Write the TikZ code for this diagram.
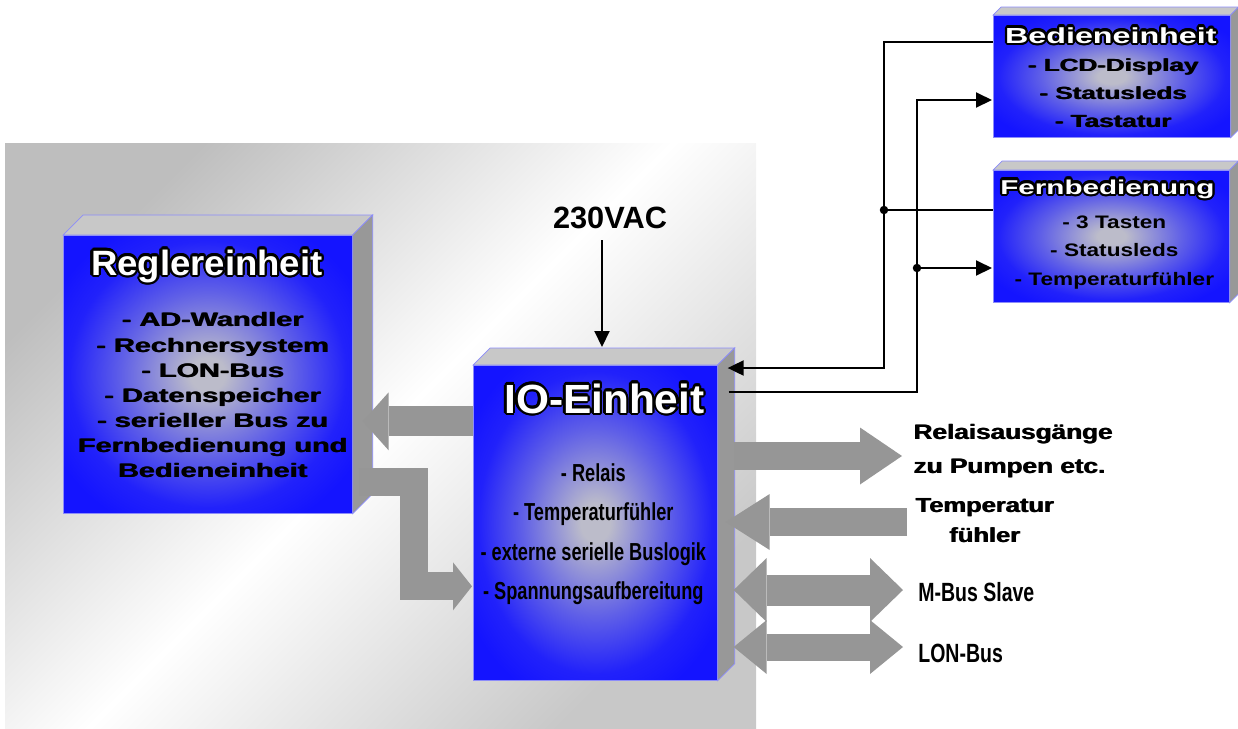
\documentclass[tikz,border=0pt]{standalone}
\usepackage{fontspec}
\usepackage[copies]{contour}
\usetikzlibrary{arrows.meta,positioning,calc}
\setmainfont{Liberation Sans}
\newfontfamily\titlefont{Liberation Sans}[FakeStretch=1.04]
\newfontfamily\widefont{Liberation Sans}[FakeStretch=1.48]
\newfontfamily\midfont{Liberation Sans}[FakeStretch=1.25]
\newfontfamily\narrowfont{Liberation Sans}[FakeStretch=0.74]
\definecolor{bxBlue}  {RGB}{ 20, 20,255}
\definecolor{bxMid}   {RGB}{188,188,202}
\definecolor{bxTop}   {RGB}{200,200,200}
\definecolor{bxSide}  {RGB}{152,152,152}
\definecolor{bxEdge}  {RGB}{140,140,250}
\definecolor{fatGrey} {RGB}{150,150,150}
\definecolor{bgGreyA} {RGB}{190,190,190}
\definecolor{bgGreyB} {RGB}{200,200,200}
\pgfdeclareradialshading{boxglow}{\pgfpoint{0bp}{0bp}}{%
  color(0bp)=(bxMid); color(3bp)=(bxMid); color(15bp)=(bxBlue!55!bxMid);
  color(24bp)=(bxBlue!92!bxMid); color(30bp)=(bxBlue); color(50bp)=(bxBlue)}
\contourlength{1.3pt}
\newcommand{\boxtitle}[1]{\textcolor{white}{\contour{black}{#1}}}
% heavier black lettering: the line printed twice, slightly shifted
\newcommand{\hv}[1]{\rlap{#1}\kern0.5pt#1}
% top and side face of a block: #1 front node, #2 depth
\newcommand{\depthfaces}[2]{%
  \filldraw[topface] (#1.north west) -- ++(#2,-#2)
     -- ($(#1.north east)+(#2,-#2)$) -- (#1.north east) -- cycle;
  \filldraw[sideface] (#1.north east) -- ++(#2,-#2)
     -- ($(#1.south east)+(#2,-#2)$) -- (#1.south east) -- cycle;}

\begin{document}
\begin{tikzpicture}[
  x=0.02cm,y=-0.02cm,
  front/.style={shade,shading=boxglow,draw=bxEdge,line width=0.4pt,
                anchor=north west,inner sep=0pt},
  topface/.style={fill=bxTop,draw=bxEdge,line width=0.4pt},
  sideface/.style={fill=bxSide,draw=bxEdge,line width=0.4pt},
  wire/.style={line width=0.04cm},
  wtip/.style={-{Triangle[length=0.32cm,width=0.3cm]}},
  dot/.style={circle,fill=black,inner sep=0pt,minimum size=0.17cm},
  fat/.style={draw=fatGrey,line width=#1},
  lbl/.style={inner sep=0pt,text=black}
]
\useasboundingbox (0,0) rectangle (1238,728);

% grey panel behind the two main blocks
\shade[top color=bgGreyA,bottom color=bgGreyB,middle color=white,
       shading angle=45] (5,143) rectangle (756,728);

% Reglereinheit
\node[front,minimum width=5.78cm,minimum height=5.56cm] (regler) at (63,235) {};
\depthfaces{regler}{20}
\node[lbl,anchor=base,font=\titlefont\bfseries\fontsize{20}{22}\selectfont]
   (reglerT) at ($(regler.north)+(-1,40)$) {\boxtitle{Reglereinheit}};
\node[lbl,align=center,font=\widefont\bfseries\fontsize{11.1}{14.3}\selectfont]
   (reglerB) at ($(regler.center)+(5,21)$)
   {\hv{- AD-Wandler}\\\hv{- Rechnersystem}\\\hv{- LON-Bus}\\\hv{- Datenspeicher}\\
    \hv{- serieller Bus zu}\\\hv{Fernbedienung und}\\\hv{Bedieneinheit}};

% IO-Einheit
\node[front,minimum width=4.88cm,minimum height=6.3cm] (io) at (473,365) {};
\depthfaces{io}{17}
\node[lbl,anchor=base,font=\titlefont\bfseries\fontsize{23.2}{25}\selectfont]
   (ioT) at ($(io.north)+(9,48)$) {\boxtitle{IO-Einheit}};
\node[lbl,align=center,font=\narrowfont\bfseries\fontsize{14}{22.4}\selectfont]
   (ioB) at ($(io.center)+(-2,11.5)$)
   {- Relais\\- Temperaturfühler\\- externe serielle Buslogik\\- Spannungsaufbereitung};

% Bedieneinheit
\node[front,minimum width=4.74cm,minimum height=2.44cm] (bedien) at (993,15) {};
\depthfaces{bedien}{8}
\node[lbl,anchor=base,font=\widefont\bfseries\fontsize{12.4}{14}\selectfont]
   (bedienT) at ($(bedien.north)+(-1,28)$) {\boxtitle{Bedieneinheit}};
\node[lbl,align=center,font=\widefont\bfseries\fontsize{10}{15.9}\selectfont]
   (bedienB) at ($(bedien.center)+(1.5,17)$)
   {\hv{- LCD-Display}\\\hv{- Statusleds}\\\hv{- Tastatur}};

% Fernbedienung
\node[front,minimum width=4.72cm,minimum height=2.64cm] (fern) at (993,170) {};
\depthfaces{fern}{9}
\node[lbl,anchor=base,font=\widefont\bfseries\fontsize{11.4}{13}\selectfont]
   (fernT) at ($(fern.north)+(-4,24)$) {\boxtitle{Fernbedienung}};
\node[lbl,align=center,font=\midfont\bfseries\fontsize{10.3}{16.2}\selectfont]
   (fernB) at ($(fern.center)+(3,16)$)
   {- 3 Tasten\\- Statusleds\\- Temperaturfühler};

% outside labels
\node[lbl,font=\bfseries\fontsize{17.5}{20}\selectfont] (vac) at (610,218) {230VAC};
\node[lbl,anchor=west,align=left,font=\midfont\bfseries\fontsize{11.9}{19.3}\selectfont]
   (relais) at (913,451) {\hv{Relaisausgänge}\\\hv{zu Pumpen etc.}};
\node[lbl,anchor=west,align=center,font=\midfont\bfseries\fontsize{11.6}{17}\selectfont]
   (temp) at (915,521) {\hv{Temperatur}\\\hv{fühler}};
\node[lbl,anchor=west,font=\narrowfont\bfseries\fontsize{15}{17}\selectfont]
   (mbus) at (918,592) {M-Bus Slave};
\node[lbl,anchor=west,font=\narrowfont\bfseries\fontsize{15}{17}\selectfont]
   (lon) at (918,653) {LON-Bus};

% fat data arrows
\coordinate (reglerIn)  at ($(regler.east)+(10,47)$);
\coordinate (reglerOut) at ($(regler.east)+(6,108)$);
\coordinate (ioIn)      at ($(io.west)+(-1,63.5)$);
\coordinate (elbow)     at (414,0);
\coordinate (ioR)       at ($(io.north east)+(16,0)$);
\coordinate (relaisTip) at ($(relais.west)+(-11,5)$);
\coordinate (tempStart) at ($(temp.west)+(-8,1)$);
\coordinate (mbusTip)   at ($(mbus.west)+(-15,-2)$);
\coordinate (lonTip)    at ($(lon.west)+(-15,-6)$);

\draw[fat=0.6cm,-{Triangle[length=0.52cm,width=1.16cm,line width=0pt]}]
   (io.west |- reglerIn) -- (reglerIn);
\draw[fat=0.56cm,-{Triangle[length=0.38cm,width=0.96cm,line width=0pt]}]
   (reglerOut) -| (elbow |- ioIn) -- (ioIn);
\draw[fat=0.56cm,-{Triangle[length=0.84cm,width=1.14cm,line width=0pt]}]
   (ioR |- relaisTip) -- (relaisTip);
\draw[fat=0.56cm,-{Triangle[length=0.88cm,width=1.12cm,line width=0pt]}]
   (tempStart) -- ($(ioR |- tempStart)+(-8,0)$);
\draw[fat=0.62cm,{Triangle[length=0.66cm,width=1.28cm,line width=0pt]}-%
   {Triangle[length=0.66cm,width=1.28cm,line width=0pt]}]
   (ioR |- mbusTip) -- (mbusTip);
\draw[fat=0.54cm,{Triangle[length=0.66cm,width=1.08cm,line width=0pt]}-%
   {Triangle[length=0.66cm,width=1.08cm,line width=0pt]}]
   (ioR |- lonTip) -- (lonTip);

% serial bus wiring
\coordinate (ioTop)   at ($(io.north west)+(129,-18)$);
\coordinate (ioSig)   at ($(io.north east)+(10,3)$);
\coordinate (ioCmd)   at ($(io.north east)+(11,27)$);
\coordinate (bedOut)  at ($(bedien.north west)+(0,27)$);
\coordinate (bedIn)   at ($(bedien.north west)+(-1,85)$);
\coordinate (fernOut) at ($(fern.north west)+(0,40)$);
\coordinate (fernIn)  at ($(fern.north west)+(-1,98)$);
\coordinate (busA)    at (884,0);
\coordinate (busB)    at (917,0);

\draw[wire,wtip,shorten <=0.22cm] (vac.south -| ioTop) -- (ioTop);
\draw[wire,wtip] (bedOut) -| (busA |- ioSig) -- (ioSig);
\draw[wire,wtip] (ioCmd) -| (busB |- bedIn) -- (bedIn);
\node[dot] (jA) at (busA |- fernOut) {};
\node[dot] (jB) at (busB |- fernIn) {};
\draw[wire] (jA.center) -- (fernOut);
\draw[wire,wtip] (jB.center) -- (fernIn);
\end{tikzpicture}
\end{document}
